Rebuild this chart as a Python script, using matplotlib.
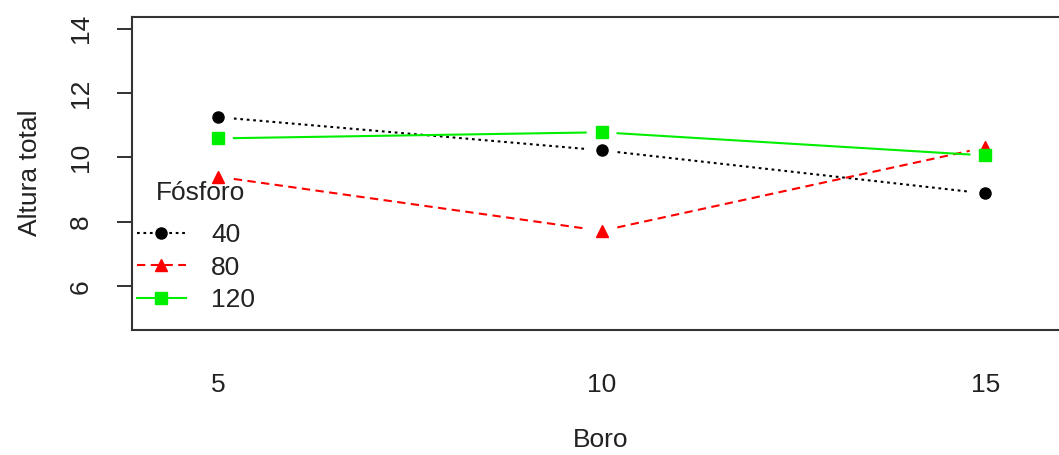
import numpy as np
import matplotlib
matplotlib.use("Agg")
from matplotlib import pyplot as plt
from matplotlib.lines import Line2D

plt.rcParams['font.family'] = ['Liberation Sans', 'DejaVu Sans']

# interaction means: Altura total by Boro, one trace per Fósforo dose
boro = [5, 10, 15]
fosforo = ['40', '80', '120']
altura_40 = [11.25, 10.22, 8.88]
altura_80 = [9.40, 7.72, 10.31]
altura_120 = [10.59, 10.78, 10.06]

series = [altura_40, altura_80, altura_120]
colors = ['black', '#ff0000', '#00ee00']
styles = [(0, (1.3, 1.8)), (0, (4, 2.6)), '-']
markers = ['o', '^', 's']
msizes = [8, 9, 8]
fs = 19

fig = plt.figure(figsize=(10.59, 4.55), dpi=100)
ax = fig.add_axes([132/1059, 1-330/455, 1-132/1059, (330-17)/455])
ax.set_xlim(3.88, 15.96)
ax.set_ylim(4.64, 14.36)

# type="b" style: line segments stop short of the points
gap = 16.0
def gapped(xs, ys, **kw):
    pts = ax.transData.transform(np.column_stack([xs, ys]))
    inv = ax.transData.inverted()
    for a, b in zip(pts[:-1], pts[1:]):
        d = b - a
        n = np.hypot(*d)
        if n <= 2*gap:
            continue
        u = d / n
        seg = inv.transform(np.array([a + u*gap, b - u*gap]))
        ax.plot(seg[:, 0], seg[:, 1], **kw)

for ys, c, ls, m, ms in zip(series, colors, styles, markers, msizes):
    gapped(boro, ys, color=c, linestyle=ls, lw=1.5)
    ax.plot(boro, ys, linestyle='none', marker=m, color=c, ms=ms, mec=c)

for s in ['top', 'bottom', 'left']:
    ax.spines[s].set_linewidth(1.5)
    ax.spines[s].set_color('#333333')
ax.spines['right'].set_visible(False)

ax.set_yticks([6, 8, 10, 12, 14])
ax.set_yticklabels(['6', '8', '10', '12', '14'], rotation=90, va='center')
ax.tick_params(axis='y', length=11, width=1.3, pad=17, labelsize=fs, colors='#222222')
ax.set_xticks(boro)
ax.set_xticklabels([str(b) for b in boro])
ax.tick_params(axis='x', length=0, pad=31, labelsize=fs, colors='#222222')

fig.text(30/1059, 1-173/455, 'Altura total', rotation=90, ha='center', va='center',
         fontsize=fs, color='#222222')
fig.text(601/1059, 1-440/455, 'Boro', ha='center', va='center',
         fontsize=fs, color='#222222')

# legend: title drawn on its own so it can sit further above the entries
fig.text(201/1059, 1-193/455, 'Fósforo', ha='center', va='center',
         fontsize=fs, color='#222222')
handles = [Line2D([], [], color=c, linestyle=ls, lw=1.5, marker=m, ms=ms, mec=c)
           for c, ls, m, ms in zip(colors, styles, markers, msizes)]
leg = ax.legend(handles, fosforo, frameon=False,
                loc='upper left', bbox_to_anchor=(137/1059, 1-223/455),
                bbox_transform=fig.transFigure, fontsize=fs,
                handlelength=1.85, handletextpad=0.95, labelspacing=0.33,
                borderpad=0, borderaxespad=0, numpoints=1)
for t in leg.get_texts():
    t.set_color('#222222')

fig.savefig('out.png', dpi=100)
